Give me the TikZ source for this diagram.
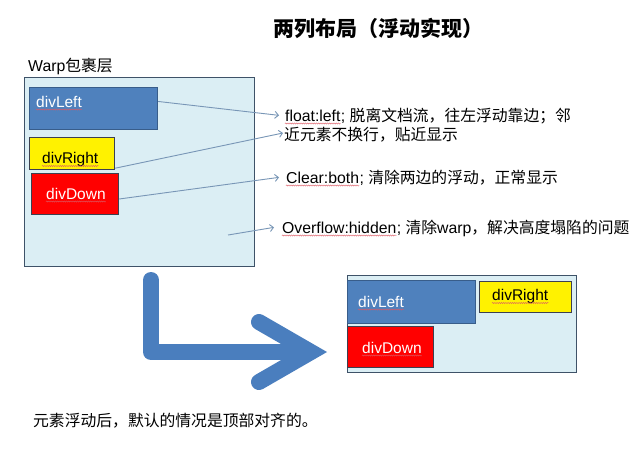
\documentclass[tikz,border=0pt]{standalone}
\usepackage{fontspec}
\setmainfont{Liberation Sans}
\newfontfamily\cjk{Noto Sans CJK SC}
\usetikzlibrary{arrows.meta,decorations.pathmorphing}
\definecolor{boxbg}{RGB}{219,238,244}
\definecolor{boxline}{RGB}{62,82,104}
\definecolor{dlfill}{RGB}{79,129,189}
\definecolor{dlline}{RGB}{56,93,138}
\definecolor{darkline}{RGB}{60,64,80}
\definecolor{conn}{RGB}{120,150,182}
\definecolor{bigblue}{RGB}{74,126,190}
\definecolor{squigred}{RGB}{220,90,100}
\tikzset{
  box/.style={draw=#1, line width=1.2pt, anchor=north west, inner sep=0pt},
  txt/.style={anchor=base west, inner sep=0pt, font=\fontsize{15.8}{18}\selectfont},
  divtxt/.style={anchor=base west, inner sep=0pt, font=\fontsize{15.5}{18}\selectfont},
  conn/.style={draw=conn, line width=0.9pt, -{Straight Barb[length=3.5pt,width=7pt]}},
  squig/.style={draw=squigred, line width=0.4pt, decorate, decoration={snake, amplitude=0.6pt, segment length=2.2pt}},
  bigarr/.style={draw=bigblue, line width=16pt, line cap=round}
}
\begin{document}
\begin{tikzpicture}[x=1pt,y=-1pt]
\useasboundingbox[fill=white] (0,0) rectangle (640,451);

% title
\node[anchor=base west, inner sep=0pt, font=\fontsize{21}{24}\selectfont\cjk\bfseries] (title) at (273,36) {两列布局（浮动实现）};

% ---------- top-left wrapper ----------
\node[txt] (warplbl) at (28,71) {Warp{\cjk 包裹层}};
\node[box=boxline, fill=boxbg, minimum width=230pt, minimum height=189pt] (warp) at (24,77) {};
\node[box=dlline, fill=dlfill, minimum width=128pt, minimum height=42pt] (dl) at (29,87) {};
\node[box=darkline, fill=yellow, minimum width=85pt, minimum height=32pt] (dr) at (29,137) {};
\node[box=darkline, fill=red, minimum width=87pt, minimum height=41pt] (dd) at (31,173) {};
\node[divtxt, text=white] (dlt) at (36,107) {divLeft};
\node[divtxt, text=black] (drt) at (42,163) {divRight};
\node[divtxt, text=white] (ddt) at (46,199) {divDown};
\draw[squig] ([yshift=-2.5pt]dlt.base west) -- ([yshift=-2.5pt]dlt.base east);
\draw[squig] ([yshift=-3pt]drt.base west) -- ([yshift=-3pt]drt.base east);
\draw[squig] ([yshift=-2.5pt]ddt.base west) -- ([yshift=-2.5pt]ddt.base east);

% ---------- annotations ----------
\node[txt] (f1) at (285,121) {float:left};
\node[txt] (f1b) at (f1.base east) {;\ {\cjk 脱离文档流，往左浮动靠边；邻}};
\node[txt] (f2) at (284,140) {\cjk 近元素不换行，贴近显示};
\node[txt] (c1) at (286,183) {Clear:both};
\node[txt] (c1b) at (c1.base east) {;\ {\cjk 清除两边的浮动，正常显示}};
\node[txt] (o1) at (282,233) {Overflow:hidden};
\node[txt] (o1b) at (o1.base east) {;\ {\cjk 清除}warp{\cjk ，解决高度塌陷的问题}};
\draw[squig] ([yshift=-2.5pt]f1.base west) -- ([yshift=-2.5pt]f1.base east);
\draw[squig] ([yshift=-2.5pt]c1.base west) -- ([yshift=-2.5pt]c1.base east);
\draw[squig] ([yshift=-2.5pt]o1.base west) -- ([yshift=-2.5pt]o1.base east);

% ---------- connectors ----------
\coordinate (s1) at (dl.east |- dlt.center);
\coordinate (e1) at ([xshift=-6pt]f1.west);
\coordinate (s2) at ([yshift=2pt]dr.south east);
\coordinate (e2) at (283,133);
\coordinate (s3) at (dd.east |- ddt.base);
\coordinate (e3) at ([xshift=-7pt]c1.west);
\coordinate (s4) at (228,235);
\coordinate (e4) at ([xshift=-8pt]o1.west);
\draw[conn] (s1) -- (e1);
\draw[conn] (s2) -- (e2);
\draw[conn] (s3) -- (e3);
\draw[conn] (s4) -- (e4);

% ---------- big arrow ----------
\coordinate (a0) at (151,280);
\coordinate (a1) at (151,352);
\coordinate (a2) at (306,352);
\coordinate (h1) at (259,322);
\coordinate (ht) at (311,352);
\coordinate (h2) at (259,382);
\draw[bigarr, line join=round] (a0) -- (a1) -- (a2);
\draw[bigarr, line join=miter] (h1) -- (ht) -- (h2);

% ---------- bottom-right wrapper ----------
\node[box=boxline, fill=boxbg, minimum width=229pt, minimum height=97pt] (warp2) at (347,275) {};
\node[box=dlline, fill=dlfill, minimum width=128pt, minimum height=43pt] (dl2) at (347,280) {};
\node[box=darkline, fill=yellow, minimum width=92pt, minimum height=31pt] (dr2) at (479,281) {};
\node[box=darkline, fill=red, minimum width=86pt, minimum height=41pt] (dd2) at (347,326) {};
\node[divtxt, text=white] (dlt2) at (358,307) {divLeft};
\node[divtxt, text=black] (drt2) at (492,300) {divRight};
\node[divtxt, text=white] (ddt2) at (362,353) {divDown};
\draw[squig] ([yshift=-2.5pt]dlt2.base west) -- ([yshift=-2.5pt]dlt2.base east);
\draw[squig] ([yshift=-3pt]drt2.base west) -- ([yshift=-3pt]drt2.base east);
\draw[squig] ([yshift=-2.5pt]ddt2.base west) -- ([yshift=-2.5pt]ddt2.base east);

% bottom note
\node[txt] (note) at (33,426) {\cjk 元素浮动后，默认的情况是顶部对齐的。};
\end{tikzpicture}
\end{document}
